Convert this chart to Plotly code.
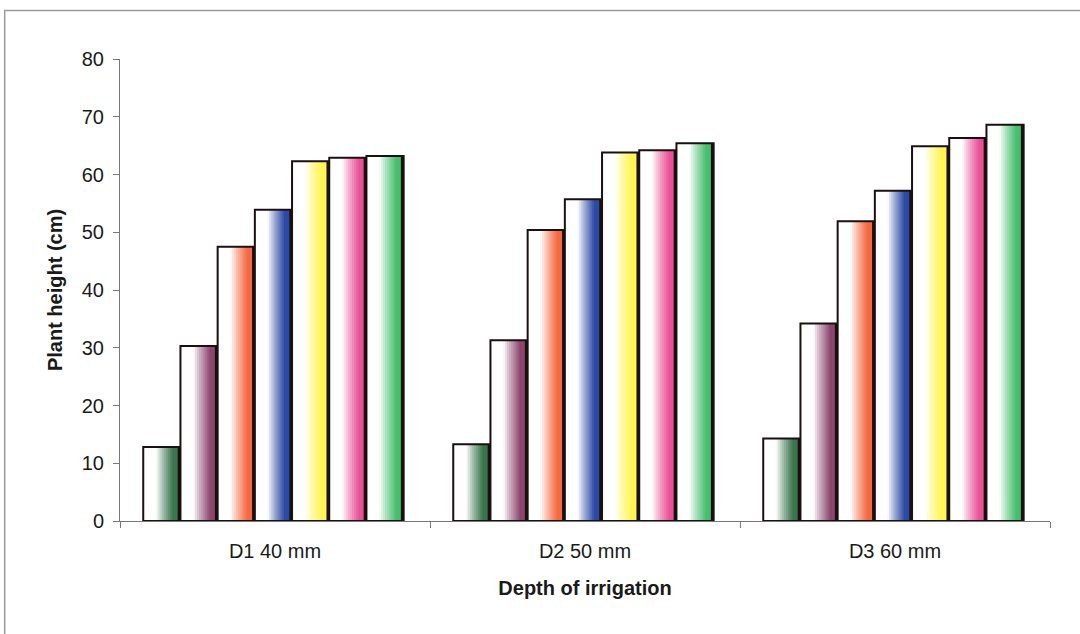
import plotly.graph_objects as go

categories = ["D1 40 mm", "D2 50 mm", "D3 60 mm"]
series_names = ["S1", "S2", "S3", "S4", "S5", "S6", "S7"]
s1 = [12.8, 13.3, 14.3]
s2 = [30.3, 31.3, 34.2]
s3 = [47.5, 50.4, 51.9]
s4 = [53.9, 55.7, 57.2]
s5 = [62.3, 63.8, 64.9]
s6 = [62.9, 64.2, 66.3]
s7 = [63.2, 65.4, 68.6]
series_values = [s1, s2, s3, s4, s5, s6, s7]

colors = [(55, 115, 75), (140, 70, 110), (245, 105, 65), (45, 75, 165),
          (255, 245, 80), (232, 80, 150), (70, 190, 110)]

FONT = "Liberation Sans, Arial, sans-serif"
group_width = 0.84
bw = group_width / len(series_values)
base = -0.425
N = 18

def mix(c, f):
    return "rgb(%d,%d,%d)" % tuple(round(255 + (ch - 255) * f) for ch in c)

fig = go.Figure()
for i, (name, vals, col) in enumerate(zip(series_names, series_values, colors)):
    off0 = base + i * bw
    sw = bw / N
    for k in range(N):
        t = (k + 0.5) / N
        f = min(max((t - 0.35) / 0.45, 0.0), 1.0)
        f = f ** 0.85
        w = min(sw * 1.3, bw - k * sw)
        fig.add_trace(go.Bar(x=categories, y=vals, offset=off0 + k * sw, width=w,
                             marker=dict(color=mix(col, f), line=dict(width=0)),
                             showlegend=False, hoverinfo="skip"))
    # right-edge shadow
    fig.add_trace(go.Bar(x=categories, y=vals, offset=off0 + bw - 0.009, width=0.009,
                         marker=dict(color="#1a1010", line=dict(width=0)),
                         showlegend=False, hoverinfo="skip"))
    # outline
    fig.add_trace(go.Bar(x=categories, y=vals, offset=off0, width=bw, name=name,
                         marker=dict(color="rgba(0,0,0,0)", line=dict(color="#1a1010", width=2)),
                         showlegend=False))

fig.update_layout(
    width=1080, height=634,
    barmode="overlay",
    paper_bgcolor="white", plot_bgcolor="white",
    margin=dict(l=120, r=30, t=59, b=113),
    font=dict(family=FONT, size=20, color="#1a1a1a"),
    showlegend=False,
    shapes=[dict(type="rect", xref="paper", yref="paper",
                 x0=-0.124, x1=1.1, y0=-0.3, y1=1.105,
                 line=dict(color="#9a9a9a", width=1.5), fillcolor="rgba(0,0,0,0)",
                 layer="below")],
)
fig.update_xaxes(
    type="category", range=[-0.5, 2.5],
    showline=True, linecolor="#777", linewidth=1,
    ticks="outside", tickson="boundaries", ticklen=6, tickcolor="#777",
    ticklabelstandoff=12,
    showgrid=False, zeroline=False,
    tickfont=dict(size=20, family=FONT),
    title=dict(text="<b>Depth of irrigation</b>", font=dict(size=20, family=FONT), standoff=19),
)
fig.update_yaxes(
    range=[0, 80], dtick=10,
    showline=True, linecolor="#777", linewidth=1,
    ticks="outside", ticklen=6, tickcolor="#777",
    ticklabelstandoff=5,
    showgrid=False, zeroline=False,
    tickfont=dict(size=20, family=FONT),
    title=dict(text="<b>Plant height (cm)</b>", font=dict(size=20, family=FONT), standoff=13),
)

fig.write_html("out.html")
